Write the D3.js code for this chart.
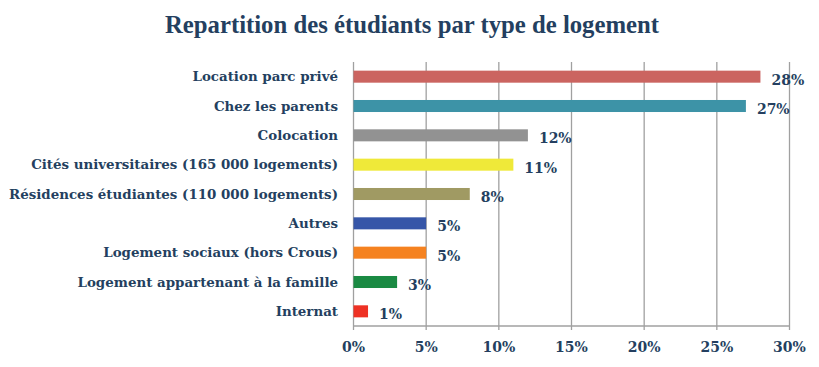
<!DOCTYPE html>
<html>
<head>
<meta charset="utf-8">
<script src="https://cdn.jsdelivr.net/npm/d3@7"></script>
<style>
  body { margin: 0; background: #fff; }
  text { font-family: "DejaVu Serif", "Liberation Serif", serif; font-weight: bold; fill: #243f60; }
</style>
</head>
<body>
<div id="chart"></div>
<script>
var width = 819;
var height = 367;

var categories = ["Location parc privé", "Chez les parents", "Colocation",
  "Cités universitaires (165 000 logements)", "Résidences étudiantes (110 000 logements)",
  "Autres", "Logement sociaux (hors Crous)", "Logement appartenant à la famille", "Internat"];
var values = [28, 27, 12, 11, 8, 5, 5, 3, 1];
var colors = ["#cb6460", "#3d93a7", "#929292", "#efe939", "#a09a63",
  "#3656a8", "#f58220", "#1a8a43", "#ee3124"];
var ticks = [0, 5, 10, 15, 20, 25, 30];

var margin = {top: 62, left: 353.5, right: 30, bottom: 41};

var svg = d3.select("#chart").append("svg")
  .attr("width", width)
  .attr("height", height);

var x = d3.scaleLinear().domain([0, 30]).range([margin.left, 789.5]);
var y = d3.scaleBand().domain(categories)
  .range([margin.top, height - margin.bottom])
  .paddingInner(0.59).paddingOuter(0.295);

// title
svg.append("text")
  .attr("x", 412)
  .attr("y", 33)
  .attr("text-anchor", "middle")
  .attr("textLength", 494)
  .attr("lengthAdjust", "spacingAndGlyphs")
  .style("font-family", "'Liberation Serif', serif")
  .style("font-size", "25px")
  .text("Repartition des étudiants par type de logement");

// grid lines
svg.selectAll(".grid")
  .data(ticks)
  .enter().append("line")
    .attr("class", "grid")
    .attr("x1", function(d) { return x(d); })
    .attr("x2", function(d) { return x(d); })
    .attr("y1", margin.top)
    .attr("y2", height - margin.bottom + 4)
    .style("stroke", "#a0a0a0")
    .style("stroke-width", 1.3);

// bottom axis line
svg.append("line")
  .attr("x1", x(0)).attr("x2", x(30))
  .attr("y1", height - margin.bottom).attr("y2", height - margin.bottom)
  .style("stroke", "#a0a0a0")
  .style("stroke-width", 1.3);

// tick labels
svg.selectAll(".tick-label")
  .data(ticks)
  .enter().append("text")
    .attr("class", "tick-label")
    .attr("x", function(d) { return x(d); })
    .attr("y", 352)
    .attr("text-anchor", "middle")
    .style("font-size", "14px")
    .text(function(d) { return d + "%"; });

// bars
svg.selectAll(".bar")
  .data(values)
  .enter().append("rect")
    .attr("class", "bar")
    .attr("x", x(0))
    .attr("y", function(d, i) { return y(categories[i]); })
    .attr("width", function(d) { return x(d) - x(0); })
    .attr("height", y.bandwidth())
    .attr("fill", function(d, i) { return colors[i]; });

// category labels
svg.selectAll(".cat")
  .data(categories)
  .enter().append("text")
    .attr("class", "cat")
    .attr("x", 338)
    .attr("y", function(d) { return y(d) + y.bandwidth() / 2; })
    .attr("dy", "0.35em")
    .attr("text-anchor", "end")
    .style("font-size", "13.4px")
    .text(function(d) { return d; });

// value labels
svg.selectAll(".val")
  .data(values)
  .enter().append("text")
    .attr("class", "val")
    .attr("x", function(d) { return x(d) + 11; })
    .attr("y", function(d, i) { return y(categories[i]) + y.bandwidth() / 2 + 3; })
    .attr("dy", "0.35em")
    .style("font-size", "14px")
    .text(function(d) { return d + "%"; });
</script>
</body>
</html>
